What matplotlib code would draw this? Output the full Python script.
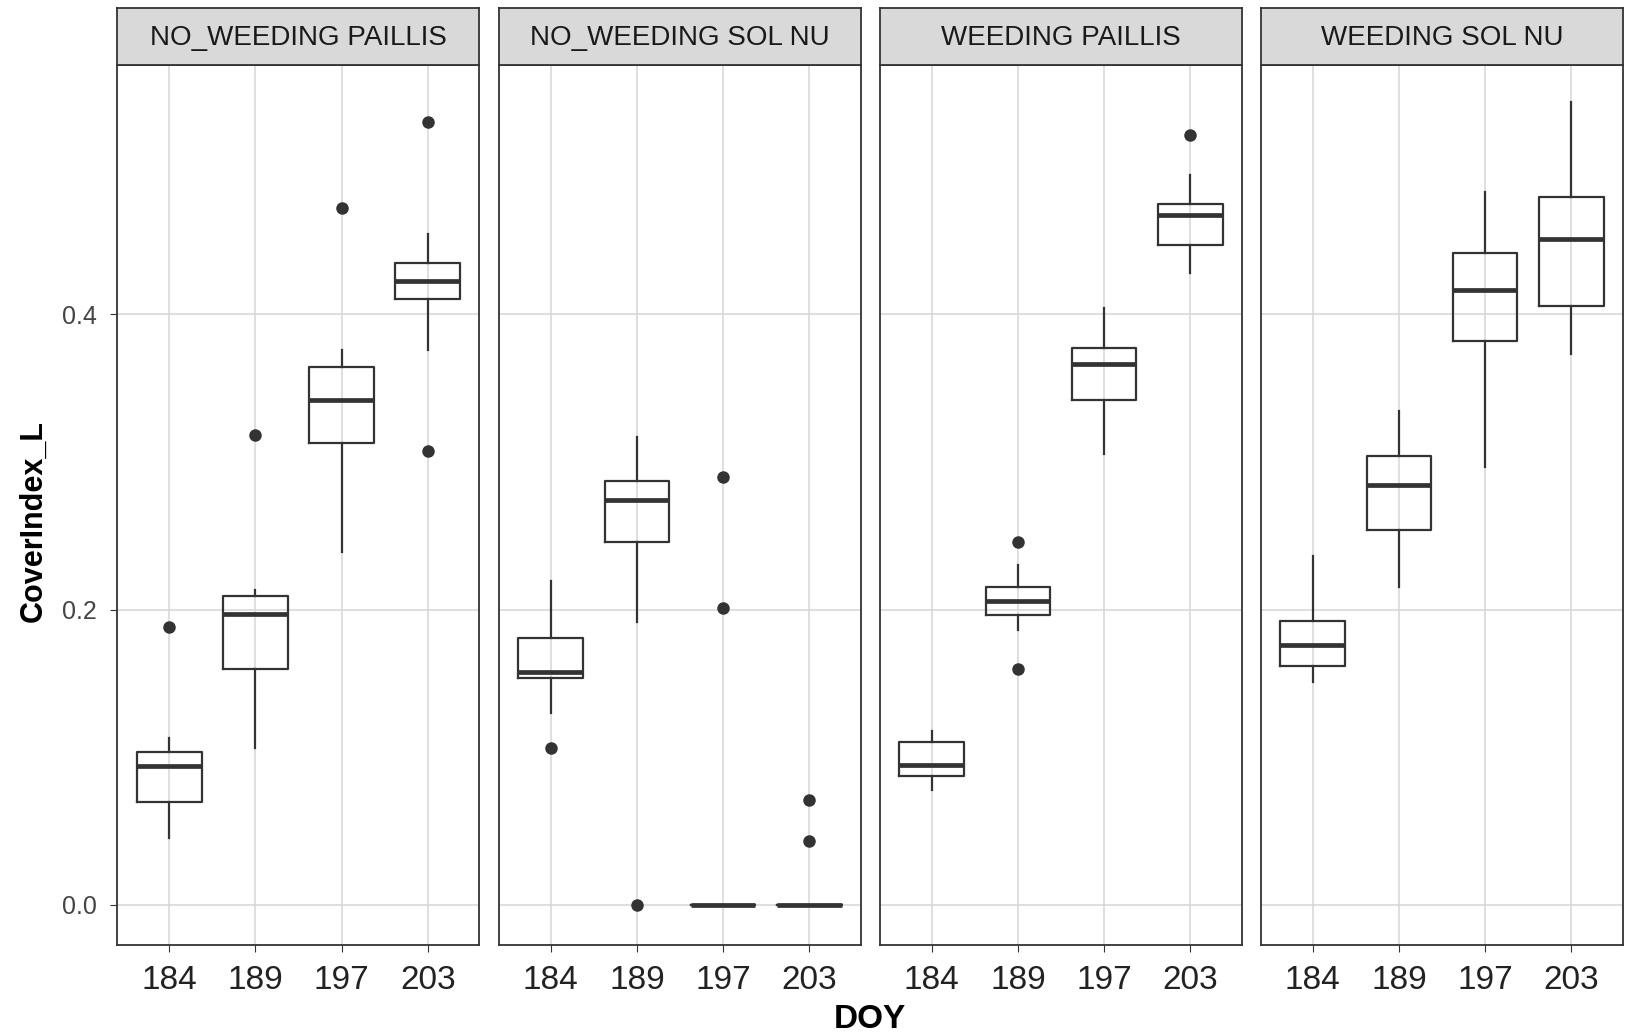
import numpy as np
import matplotlib
matplotlib.use("Agg")
import matplotlib.pyplot as plt

plt.rcParams["font.family"] = ["Liberation Sans", "DejaVu Sans"]

panels = ["NO_WEEDING PAILLIS", "NO_WEEDING SOL NU", "WEEDING PAILLIS", "WEEDING SOL NU"]
doy = ["184", "189", "197", "203"]

# box stats per panel, one entry per DOY: whislo, q1, med, q3, whishi
whislo = [[0.045, 0.106, 0.239, 0.376],
          [0.130, 0.1915, 0.0, 0.0],
          [0.0775, 0.186, 0.305, 0.428],
          [0.151, 0.215, 0.2965, 0.373]]
q1 = [[0.070, 0.160, 0.313, 0.4105],
      [0.1535, 0.246, 0.0, 0.0],
      [0.087, 0.196, 0.342, 0.4465],
      [0.162, 0.2535, 0.3817, 0.4056]]
med = [[0.094, 0.197, 0.342, 0.4225],
       [0.158, 0.274, 0.0, 0.0],
       [0.095, 0.2056, 0.366, 0.467],
       [0.176, 0.2845, 0.416, 0.4507]]
q3 = [[0.1035, 0.209, 0.364, 0.4345],
      [0.181, 0.287, 0.0, 0.0],
      [0.110, 0.2155, 0.377, 0.4746],
      [0.192, 0.304, 0.4415, 0.4796]]
whishi = [[0.113, 0.213, 0.376, 0.454],
          [0.219, 0.317, 0.0, 0.0],
          [0.118, 0.230, 0.404, 0.494],
          [0.236, 0.3345, 0.483, 0.5437]]
outliers = [[[0.188], [0.318], [0.472], [0.530, 0.307]],
            [[0.106], [0.0], [0.290, 0.2007], [0.071, 0.043]],
            [[], [0.246, 0.160], [], [0.521]],
            [[], [], [], []]]

W, H = 1631, 1035
fig = plt.figure(figsize=(W / 100, H / 100), dpi=100)
fig.patch.set_facecolor("white")

lefts = [117.5, 499, 880, 1261]
pw = 362
panel_top, panel_bot, strip_top = 64.5, 944.5, 8.3

for i, name in enumerate(panels):
    ax = fig.add_axes([lefts[i] / W, 1 - panel_bot / H, pw / W, (panel_bot - panel_top) / H])
    stats = []
    for j in range(4):
        stats.append(dict(med=med[i][j], q1=q1[i][j], q3=q3[i][j],
                          whislo=whislo[i][j], whishi=whishi[i][j],
                          fliers=outliers[i][j]))
    ax.bxp(stats, positions=[1, 2, 3, 4], widths=0.75, showcaps=False,
           boxprops=dict(color="#333333", linewidth=1.6),
           whiskerprops=dict(color="#333333", linewidth=1.6),
           medianprops=dict(color="#333333", linewidth=3.4),
           flierprops=dict(marker="o", markerfacecolor="#333333",
                           markeredgecolor="#333333", markersize=8),
           zorder=3)
    ax.set_xlim(0.4, 4.6)
    ax.set_ylim(-0.0268, 0.569)
    ax.set_xticks([1, 2, 3, 4])
    ax.set_xticklabels(doy, fontsize=24, color="#222222")
    ax.set_yticks([0.0, 0.2, 0.4])
    ax.grid(True, color="#D6D6D6", linewidth=1.1, zorder=0)
    ax.set_axisbelow(True)
    for s in ax.spines.values():
        s.set_color("#333333")
        s.set_linewidth(1.3)
    ax.tick_params(axis="x", length=5, color="#333333", pad=10)
    if i == 0:
        ax.set_yticklabels(["0.0", "0.2", "0.4"], fontsize=18, color="#444444")
        ax.tick_params(axis="y", length=5, color="#333333", pad=10)
    else:
        ax.tick_params(axis="y", length=0, labelleft=False)

    sax = fig.add_axes([lefts[i] / W, 1 - panel_top / H, pw / W, (panel_top - strip_top) / H])
    sax.set_facecolor("#D9D9D9")
    sax.set_xticks([])
    sax.set_yticks([])
    for s in sax.spines.values():
        s.set_color("#333333")
        s.set_linewidth(1.3)
    sax.text(0.5, 0.48, name, ha="center", va="center", fontsize=20,
             color="#1A1A1A", transform=sax.transAxes)

fig.text(34 / W, 1 - 521 / H, "CoverIndex_L", rotation=90, ha="center", va="center",
         fontsize=22, fontweight="bold")
fig.text(870 / W, 1 - 1019 / H, "DOY", ha="center", va="center",
         fontsize=24, fontweight="bold")

fig.savefig("out.png", dpi=100)
